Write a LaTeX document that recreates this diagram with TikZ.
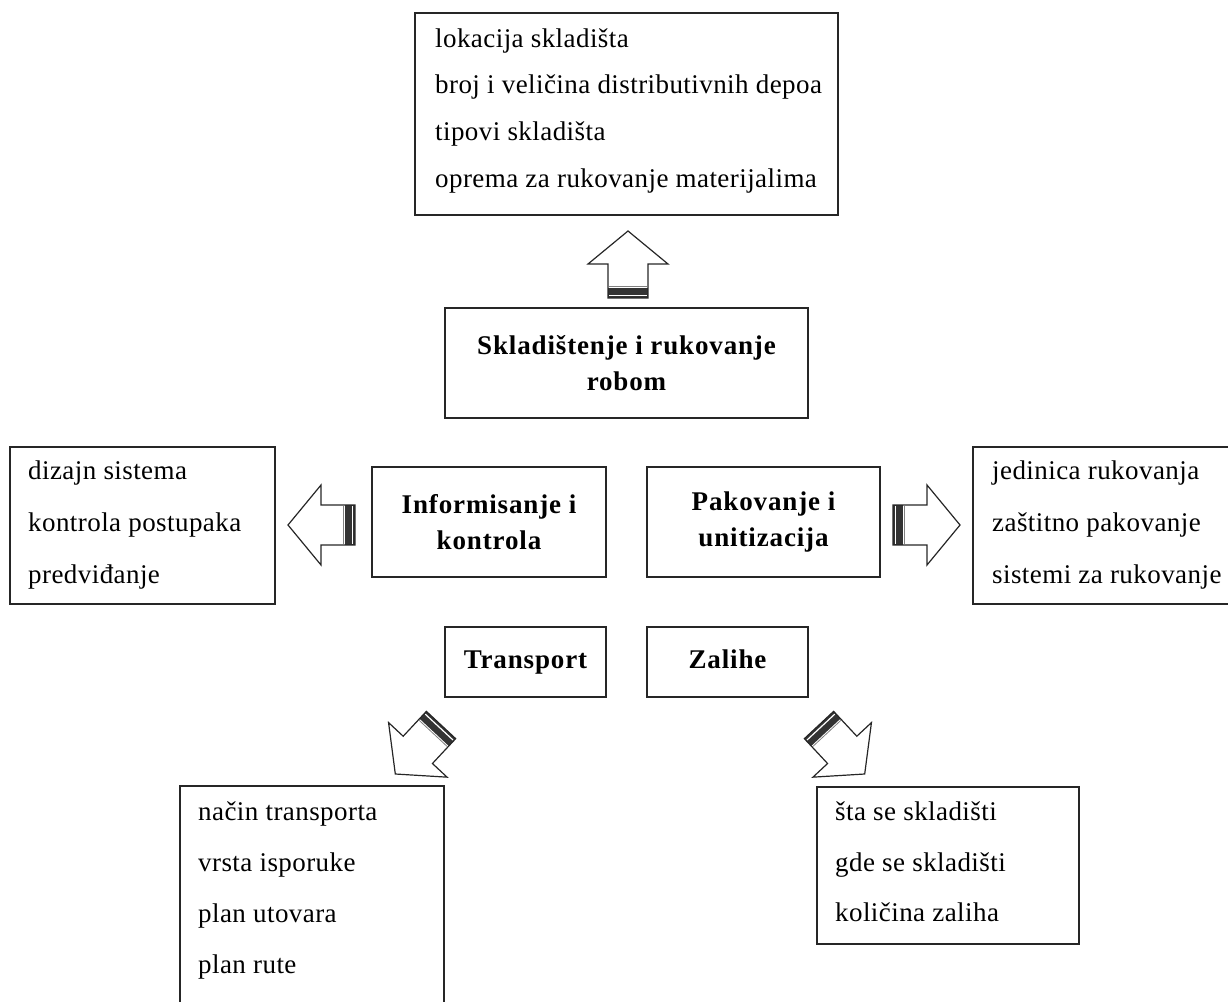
\documentclass[tikz,border=0pt]{standalone}
\usepackage{fontspec}
\setmainfont{Liberation Serif}
\newfontfamily\itemfamily[LetterSpace=1.6]{Liberation Serif}
\newfontfamily\headfamily[LetterSpace=3.2]{Liberation Serif}
\usetikzlibrary{calc}
\begin{document}
\begin{tikzpicture}[x=1pt,y=-1pt,
  frame/.style={draw=black!85, line width=1.3pt, inner sep=0pt, outer sep=0pt, anchor=north west},
  headbox/.style={frame, align=center, font=\headfamily\bfseries\fontsize{27}{36}\selectfont},
  oneline/.style={text height=19pt, text depth=6pt},
  item/.style={anchor=base west, inner sep=0pt, font=\itemfamily\fontsize{27}{30}\selectfont},
  blockarrow/.pic={
    % striped block arrow: tail at the origin, pointing along +x
    \fill[black!80] (0,-20) rectangle (10,20);
    \draw[white, line width=1.2pt] (2.8,-19) -- (2.8,19);
    \draw[black!50, line width=0.8pt] (11.5,-19) -- (11.5,19);
    \draw[black!85, line width=1.2pt, line join=miter]
      (0,-20) -- (34,-20) -- (34,-40) -- (67,0) -- (34,40) -- (34,20) -- (0,20) -- cycle;
  }]
\useasboundingbox (0,0) rectangle (1228,1001);
\clip (0,0) rectangle (1228,1001);

% boxes
\node[frame, minimum width=423, minimum height=202] (topList) at (415,13) {};
\node[headbox, minimum width=363, minimum height=110] (sklad) at (445,308) {Skladištenje i rukovanje\\robom};
\node[headbox, minimum width=234, minimum height=110] (info) at (372,467) {Informisanje i\\kontrola};
\node[headbox, minimum width=233, minimum height=110] (pak) at (647,467) {Pakovanje i\\unitizacija};
\node[frame, minimum width=265, minimum height=157] (leftList) at (10,447) {};
\node[frame, minimum width=258, minimum height=157] (rightList) at (973,447) {};
\node[headbox, oneline, minimum width=161, minimum height=70] (trans) at (445,627) {Transport};
\node[headbox, oneline, minimum width=161, minimum height=70] (zal) at (647,627) {Zalihe};
\node[frame, minimum width=264, minimum height=220] (transList) at (180,786) {};
\node[frame, minimum width=262, minimum height=157] (zalList) at (817,787) {};

% list entries
\foreach \t [count=\i] in {lokacija skladišta, broj i veličina distributivnih depoa, tipovi skladišta, oprema za rukovanje materijalima}
  \node[item] (topList-\i) at ($(topList.north west)+(20,{34+46.7*(\i-1)})$) {\t};
\foreach \t [count=\i] in {dizajn sistema, kontrola postupaka, predviđanje}
  \node[item] (leftList-\i) at ($(leftList.north west)+(18,{32+52*(\i-1)})$) {\t};
\foreach \t [count=\i] in {jedinica rukovanja, zaštitno pakovanje, sistemi za rukovanje}
  \node[item] (rightList-\i) at ($(rightList.north west)+(19,{32+52*(\i-1)})$) {\t};
\foreach \t [count=\i] in {način transporta, vrsta isporuke, plan utovara, plan rute}
  \node[item] (transList-\i) at ($(transList.north west)+(18,{34.5+51*(\i-1)})$) {\t};
\foreach \t [count=\i] in {šta se skladišti, gde se skladišti, količina zaliha}
  \node[item] (zalList-\i) at ($(zalList.north west)+(18,{33.5+50.5*(\i-1)})$) {\t};

% block arrows
\pic[rotate=90]  at (628,298) {blockarrow};
\pic[rotate=180] at (355,525) {blockarrow};
\pic[rotate=0]   at (893,525) {blockarrow};
\pic[rotate=227] at (441,725) {blockarrow};
\pic[rotate=-47] at (819,725) {blockarrow};
\end{tikzpicture}
\end{document}
